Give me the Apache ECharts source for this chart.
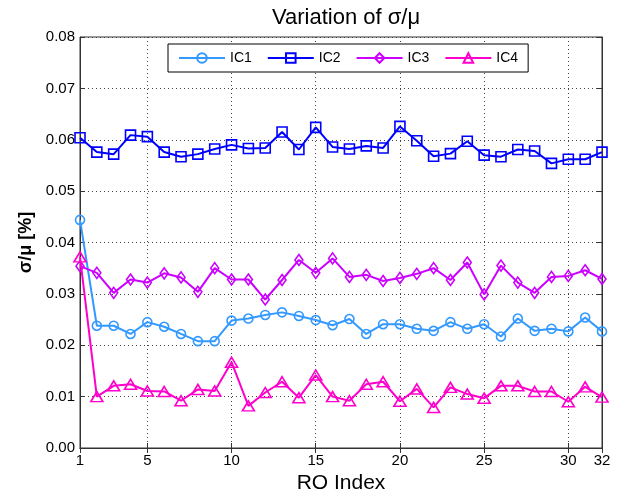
<!DOCTYPE html>
<html>
<head>
<meta charset="utf-8">
<script src="https://cdn.jsdelivr.net/npm/echarts@6/dist/echarts.min.js"></script>
<style>html,body{margin:0;padding:0;background:#fff}#c{width:618px;height:500px}</style>
</head>
<body>
<div id="c"></div>
<script>
const roIndex = Array.from({length: 32}, (_, i) => i + 1);
const xTickLabels = [1, 5, 10, 15, 20, 25, 30, 32];
const seriesNames = ['IC1', 'IC2', 'IC3', 'IC4'];
const ic1 = [0.0444, 0.0238, 0.0238, 0.0222, 0.0245, 0.0236, 0.0222, 0.0208, 0.0208, 0.0248,
             0.0252, 0.0259, 0.0264, 0.0257, 0.0249, 0.0239, 0.0251, 0.0222, 0.0241, 0.0241,
             0.0232, 0.0228, 0.0245, 0.0232, 0.0241, 0.0217, 0.0252, 0.0228, 0.0232, 0.0227,
             0.0254, 0.0227];
const ic2 = [0.0604, 0.0576, 0.0572, 0.0609, 0.0606, 0.0576, 0.0567, 0.0572, 0.0582, 0.0590,
             0.0583, 0.0584, 0.0615, 0.0581, 0.0624, 0.0586, 0.0582, 0.0588, 0.0584, 0.0626,
             0.0598, 0.0568, 0.0573, 0.0597, 0.0570, 0.0567, 0.0581, 0.0578, 0.0554, 0.0562,
             0.0562, 0.0576];
const ic3 = [0.0354, 0.0341, 0.0302, 0.0328, 0.0322, 0.0340, 0.0332, 0.0304, 0.0350, 0.0328,
             0.0328, 0.0289, 0.0327, 0.0366, 0.0341, 0.0369, 0.0333, 0.0337, 0.0325, 0.0331,
             0.0339, 0.0350, 0.0327, 0.0361, 0.0299, 0.0355, 0.0322, 0.0302, 0.0333, 0.0335,
             0.0346, 0.0329];
const ic4 = [0.0372, 0.0100, 0.0121, 0.0124, 0.0111, 0.0110, 0.0092, 0.0114, 0.0111, 0.0167,
             0.0082, 0.0108, 0.0129, 0.0098, 0.0142, 0.0100, 0.0092, 0.0124, 0.0129, 0.0091,
             0.0115, 0.0079, 0.0118, 0.0105, 0.0097, 0.0121, 0.0121, 0.0110, 0.0110, 0.0090,
             0.0119, 0.0099];

const colors = ['#3399ff', '#0000ff', '#cc00ff', '#ff00cc'];
const symbols = ['circle', 'rect', 'diamond', 'triangle'];
const symbolSizes = [9, 10, [8, 11], [12, 10]];
const allData = [ic1, ic2, ic3, ic4];
const FONT = '"Liberation Sans", Arial, sans-serif';

const series = seriesNames.map((name, k) => ({
  name: name,
  type: 'line',
  data: roIndex.map((x, i) => [x, allData[k][i]]),
  color: colors[k],
  symbol: symbols[k],
  symbolSize: symbolSizes[k],
  showAllSymbol: true,
  lineStyle: {color: colors[k], width: 2},
  itemStyle: {color: 'rgba(255,255,255,0)', borderColor: colors[k], borderWidth: 1.6},
  z: 3 + k
}));

const chart = echarts.init(document.getElementById('c'), null, {renderer: 'canvas'});
chart.setOption({
  animation: false,
  backgroundColor: '#fff',
  textStyle: {fontFamily: FONT},
  title: {
    text: 'Variation of σ/μ',
    left: 341,
    textAlign: 'center',
    top: 2,
    textStyle: {fontFamily: FONT, fontSize: 22, fontWeight: 'normal', color: '#000'}
  },
  legend: {
    data: seriesNames,
    top: 44,
    left: 168,
    itemWidth: 46,
    itemHeight: 12,
    itemGap: 15,
    padding: [7, 10, 7, 10],
    borderColor: '#000',
    borderWidth: 1,
    borderRadius: 0,
    backgroundColor: '#fff',
    textStyle: {fontFamily: FONT, fontSize: 14, color: '#000'}
  },
  grid: {left: 80, right: 16, top: 37, bottom: 52, show: true, borderColor: '#333', borderWidth: 1, backgroundColor: '#fff'},
  xAxis: [{
    type: 'value',
    min: 1, max: 32,
    name: 'RO Index',
    nameLocation: 'middle',
    nameGap: 25,
    nameTextStyle: {fontFamily: FONT, fontSize: 21, color: '#000'},
    axisLine: {show: true, lineStyle: {color: '#333'}},
    axisTick: {show: true, inside: true, length: 5, customValues: xTickLabels, lineStyle: {color: '#333'}},
    axisLabel: {customValues: xTickLabels, color: '#000', fontSize: 15, fontFamily: FONT, margin: 5},
    splitLine: {show: true, lineStyle: {type: [1, 3], color: '#444', width: 1}}
  }, {
    type: 'value',
    position: 'top',
    min: 1, max: 32,
    axisLine: {show: true, lineStyle: {color: '#333'}},
    axisTick: {show: true, inside: true, length: 5, customValues: xTickLabels, lineStyle: {color: '#333'}},
    axisLabel: {show: false, customValues: xTickLabels},
    splitLine: {show: false}
  }],
  yAxis: [{
    type: 'value',
    min: 0, max: 0.08, interval: 0.01,
    name: 'σ/μ [%]',
    nameLocation: 'middle',
    nameGap: 42,
    nameTextStyle: {fontFamily: FONT, fontSize: 18, fontWeight: 'bold', color: '#000'},
    axisLine: {show: true, lineStyle: {color: '#333'}},
    axisTick: {show: true, inside: true, length: 5, lineStyle: {color: '#333'}},
    axisLabel: {formatter: v => v.toFixed(2), color: '#000', fontSize: 15, fontFamily: FONT, margin: 5},
    splitLine: {show: true, lineStyle: {type: [1, 3], color: '#444', width: 1}}
  }, {
    type: 'value',
    position: 'right',
    min: 0, max: 0.08, interval: 0.01,
    axisLine: {show: true, lineStyle: {color: '#333'}},
    axisTick: {show: true, inside: true, length: 5, lineStyle: {color: '#333'}},
    axisLabel: {show: false},
    splitLine: {show: false}
  }],
  series: series
});
</script>
</body>
</html>
